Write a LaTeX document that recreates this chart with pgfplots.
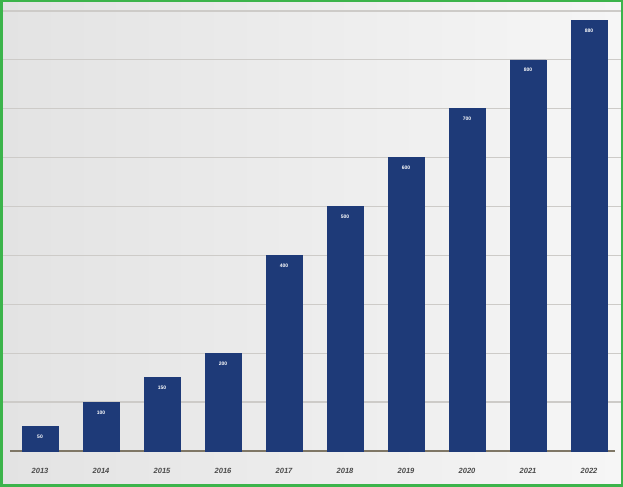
\documentclass[border=0pt]{standalone}
\usepackage{pgfplots}
\pgfplotsset{compat=1.18}
\usepackage{fontspec}
\setmainfont{Liberation Sans}
\definecolor{barblue}{HTML}{1E3A78}
\definecolor{framegreen}{HTML}{3CB44B}
\definecolor{gridgray}{HTML}{CDCBC8}
\definecolor{baseclr}{HTML}{7F7766}
\definecolor{yeargray}{HTML}{4A4A4A}
\begin{document}
\begin{tikzpicture}
\begin{axis}[
  scale only axis,
  width=623pt, height=487pt,
  xmin=-0.656, xmax=9.557,
  ymin=-73.6, ymax=922.3,
  axis line style={draw=none},
  axis background/.style={shade, left color=gray!22, right color=gray!7},
  xtick=\empty,
  ytick={100,200,...,900},
  yticklabels={},
  major tick length=0pt,
  ymajorgrids,
  grid style={gridgray, line width=1.3pt},
  clip=false,
]
\draw[draw=baseclr, line width=1.8pt] (axis cs:-0.49,0) -- (axis cs:9.43,0);
\addplot[ybar, bar width=36pt, fill=barblue, draw=barblue,
  nodes near coords, point meta=explicit symbolic,
  every node near coord/.append style={anchor=north, yshift=-5pt, white, font=\fontsize{5}{6}\selectfont\bfseries}]
  table[meta=label] {
x y label
0 50 50
1 100 100
2 150 150
3 200 200
4 400 400
5 500 500
6 600 600
7 700 700
8 800 800
9 880 880
};
\pgfplotsinvokeforeach{0,...,9}{
  \node[yeargray, font=\fontsize{7.5}{9}\selectfont\itshape\bfseries] at (axis cs:#1,-40) {\the\numexpr2013+#1\relax};
}
\draw[framegreen, line width=2.5pt] ([xshift=1.25pt,yshift=1.25pt]current axis.south west) rectangle ([xshift=-1.25pt,yshift=-1.25pt]current axis.north east);
\end{axis}
\pgfresetboundingbox
\useasboundingbox (current axis.south west) rectangle (current axis.north east);
\end{tikzpicture}
\end{document}
